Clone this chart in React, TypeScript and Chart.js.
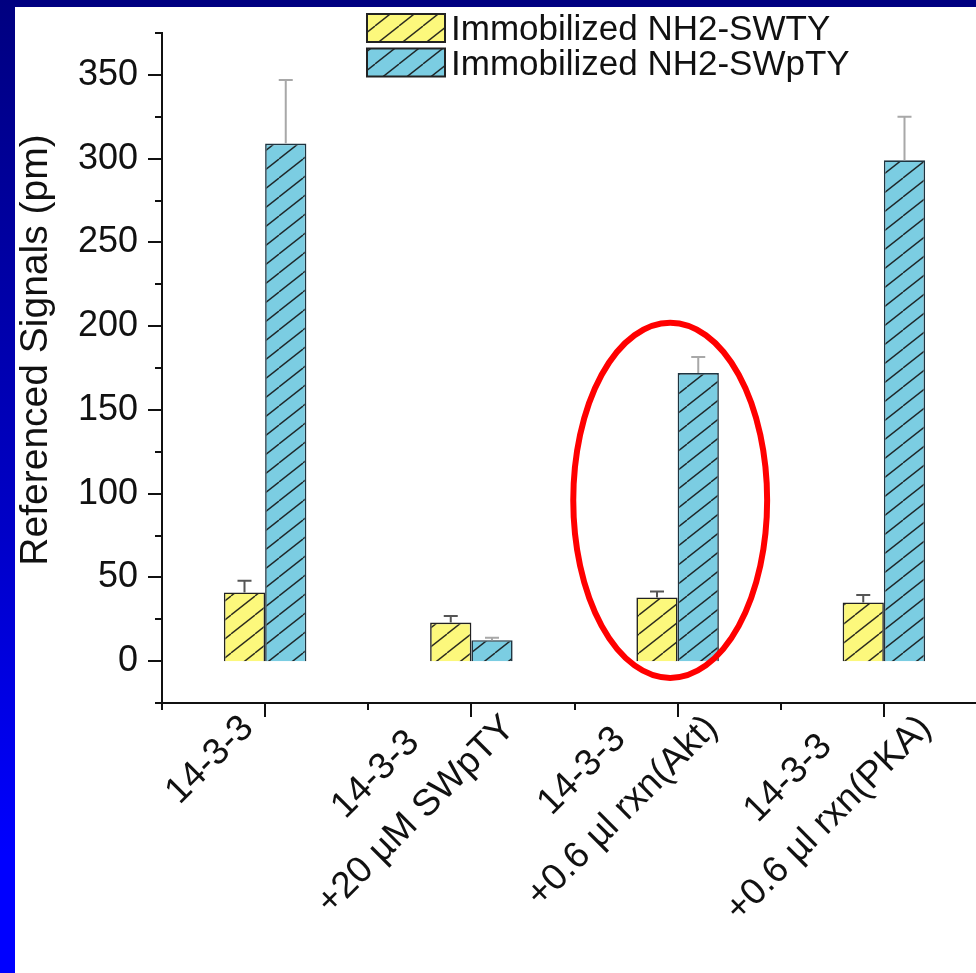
import React, { useEffect, useRef } from 'react';
import { Chart, registerables } from 'chart.js';

Chart.register(...registerables);

// ---------- data ----------
const categories: string[][] = [
  ['14-3-3'],
  ['14-3-3', '+20 µM SWpTY'],
  ['14-3-3', '+0.6 µl rxn(Akt)'],
  ['14-3-3', '+0.6 µl rxn(PKA)'],
];
const seriesNames = ['Immobilized NH2-SWTY', 'Immobilized NH2-SWpTY'];
const swtyValues = [41, 23, 38, 35];
const swtyErrors = [7, 4, 3.5, 4.5];
const swptyValues = [309, 12.5, 172, 299];
const swptyErrors = [38, 1.5, 9.5, 26];
const yTickLabels = [0, 50, 100, 150, 200, 250, 300, 350];
const yMin = -25;
const yMax = 375;
const yMinorStep = 25;
const yAxisTitle = 'Referenced Signals (pm)';

// highlight annotation (in data units)
const highlightCategory = 1.964;
const highlightCenterValue = 96;
const highlightHalfValue = 106;
const highlightHalfCategories = 0.47;

// ---------- styles ----------
const FONT = '"Liberation Sans", Arial, Helvetica, sans-serif';
const fills = ['#fcf87c', '#7bcde2'];
const borders = ['#222222', '#1e3440'];
const errColors = ['#555555', '#a8a8a8'];
const errorArrays = [swtyErrors, swptyErrors];

function hatch(bg: string): CanvasPattern | string {
  const w = 24;
  const h = 19;
  const c = document.createElement('canvas');
  c.width = w;
  c.height = h;
  const g = c.getContext('2d');
  if (!g) return bg;
  g.fillStyle = bg;
  g.fillRect(0, 0, w, h);
  g.strokeStyle = 'rgba(20,20,20,0.9)';
  g.lineWidth = 1.4;
  for (const dx of [-w, 0, w]) {
    g.beginPath();
    g.moveTo(dx, h);
    g.lineTo(dx + w, 0);
    g.stroke();
  }
  return g.createPattern(c, 'repeat') || bg;
}

export default function App() {
  const ref = useRef<HTMLCanvasElement | null>(null);

  useEffect(() => {
    const canvas = ref.current;
    if (!canvas) return;
    const patterns = fills.map((f) => hatch(f));

    const axesPlugin = {
      id: 'customAxes',
      afterDraw(chart: any) {
        const ctx = chart.ctx as CanvasRenderingContext2D;
        const xs = chart.scales.x;
        const ys = chart.scales.y;
        const area = chart.chartArea;
        ctx.save();
        ctx.strokeStyle = '#111';
        ctx.lineWidth = 2;
        // y ticks
        for (let v = yMin; v <= yMax + 0.001; v += yMinorStep) {
          const py = Math.round(ys.getPixelForValue(v));
          const major = yTickLabels.includes(v);
          const len = major ? 14 : 7;
          ctx.beginPath();
          ctx.moveTo(area.left - len, py);
          ctx.lineTo(area.left, py);
          ctx.stroke();
        }
        // x axis stub left of the y axis
        ctx.beginPath();
        ctx.moveTo(area.left - 7, area.bottom);
        ctx.lineTo(area.left, area.bottom);
        ctx.stroke();
        // x ticks
        for (let i = 0; i < categories.length; i++) {
          const px = Math.round(xs.getPixelForValue(i));
          ctx.beginPath();
          ctx.moveTo(px, area.bottom);
          ctx.lineTo(px, area.bottom + 14);
          ctx.stroke();
        }
        for (let i = 0; i <= categories.length; i++) {
          const px = Math.round(xs.getPixelForValue(i - 0.5));
          ctx.beginPath();
          ctx.moveTo(px, area.bottom);
          ctx.lineTo(px, area.bottom + 7);
          ctx.stroke();
        }
        // y title
        ctx.fillStyle = '#111';
        ctx.font = `39px ${FONT}`;
        ctx.textAlign = 'center';
        ctx.textBaseline = 'middle';
        ctx.save();
        ctx.translate(21, (area.top + area.bottom) / 2 - 18);
        ctx.rotate(-Math.PI / 2);
        ctx.fillText(yAxisTitle, 0, 0);
        ctx.restore();
        // x labels (rotated 45°, lines centred)
        const fs = 37;
        const lh = fs * 1.55;
        const half = fs * 0.36;
        ctx.font = `${fs}px ${FONT}`;
        const r = Math.SQRT1_2;
        categories.forEach((lines, i) => {
          const px = xs.getPixelForValue(i);
          let minX = Infinity, maxX = -Infinity, minY = Infinity;
          const offs = lines.map((_, k) => (k - (lines.length - 1) / 2) * lh);
          lines.forEach((l, k) => {
            const w = ctx.measureText(l).width;
            for (const sx of [-w / 2, w / 2]) {
              for (const sy of [offs[k] - half, offs[k] + half]) {
                const X = (sx + sy) * r;
                const Y = (-sx + sy) * r;
                minX = Math.min(minX, X);
                maxX = Math.max(maxX, X);
                minY = Math.min(minY, Y);
              }
            }
          });
          const cx = px - 55 - (minX + maxX) / 2;
          const cy = area.bottom + 10 - minY;
          ctx.save();
          ctx.translate(cx, cy);
          ctx.rotate(-Math.PI / 4);
          lines.forEach((l, k) => ctx.fillText(l, 0, offs[k]));
          ctx.restore();
        });
        ctx.restore();
      },
    };

    const errorPlugin = {
      id: 'errorBars',
      afterDatasetsDraw(chart: any) {
        const ctx = chart.ctx as CanvasRenderingContext2D;
        const ys = chart.scales.y;
        ctx.save();
        chart.data.datasets.forEach((ds: any, di: number) => {
          const meta = chart.getDatasetMeta(di);
          meta.data.forEach((bar: any, i: number) => {
            const { x, y } = bar.getProps(['x', 'y'], true);
            const yt = ys.getPixelForValue(ds.data[i] + errorArrays[di][i]);
            ctx.strokeStyle = errColors[di];
            ctx.lineWidth = 2;
            ctx.beginPath();
            ctx.moveTo(x, y);
            ctx.lineTo(x, yt);
            ctx.moveTo(x - 7, yt);
            ctx.lineTo(x + 7, yt);
            ctx.stroke();
          });
        });
        ctx.restore();
      },
    };

    const highlightPlugin = {
      id: 'highlight',
      afterDraw(chart: any) {
        const ctx = chart.ctx as CanvasRenderingContext2D;
        const xs = chart.scales.x;
        const ys = chart.scales.y;
        const cx = xs.getPixelForValue(highlightCategory);
        const cy = ys.getPixelForValue(highlightCenterValue);
        const rx = (xs.getPixelForValue(1) - xs.getPixelForValue(0)) * highlightHalfCategories;
        const ry = ys.getPixelForValue(0) - ys.getPixelForValue(highlightHalfValue);
        ctx.save();
        ctx.strokeStyle = '#ff0000';
        ctx.lineWidth = 6;
        ctx.beginPath();
        ctx.ellipse(cx, cy, rx, ry, 0, 0, Math.PI * 2);
        ctx.stroke();
        ctx.restore();
      },
    };

    const legendPlugin = {
      id: 'customLegend',
      afterDraw(chart: any) {
        const ctx = chart.ctx as CanvasRenderingContext2D;
        const area = chart.chartArea;
        const left = area.left + 205;
        const top = area.top - 19;
        ctx.save();
        seriesNames.forEach((name, i) => {
          const by = top + i * 34.5;
          ctx.fillStyle = patterns[i] as any;
          ctx.fillRect(left, by, 78, 28);
          ctx.strokeStyle = '#222';
          ctx.lineWidth = 2;
          ctx.strokeRect(left, by, 78, 28);
          ctx.fillStyle = '#111';
          ctx.font = `35px ${FONT}`;
          ctx.textAlign = 'left';
          ctx.textBaseline = 'alphabetic';
          ctx.fillText(name, left + 84, by + 26);
        });
        ctx.restore();
      },
    };

    const chart = new Chart(canvas, {
      type: 'bar',
      data: {
        labels: categories.map((c) => c.join(' ')),
        datasets: [
          {
            label: seriesNames[0],
            data: swtyValues,
            backgroundColor: patterns[0] as any,
            borderColor: borders[0],
            borderWidth: 1.6,
            categoryPercentage: 0.4,
            barPercentage: 1,
          },
          {
            label: seriesNames[1],
            data: swptyValues,
            backgroundColor: patterns[1] as any,
            borderColor: borders[1],
            borderWidth: 1.6,
            categoryPercentage: 0.4,
            barPercentage: 1,
          },
        ],
      },
      options: {
        responsive: false,
        animation: false,
        devicePixelRatio: 1,
        layout: { padding: { top: 26, right: 28, left: 0, bottom: 0 } },
        plugins: {
          legend: { display: false },
          title: { display: false },
          tooltip: { enabled: false },
        },
        scales: {
          x: {
            type: 'category',
            offset: true,
            grid: { display: false, drawTicks: false },
            border: { display: true, color: '#111', width: 2 },
            ticks: { display: false },
            afterFit: (s: any) => {
              s.height = 270;
              s.paddingLeft = 0;
              s.paddingRight = 0;
            },
          },
          y: {
            type: 'linear',
            min: yMin,
            max: yMax,
            grid: { display: false, drawTicks: false },
            border: { display: true, color: '#111', width: 2 },
            ticks: {
              stepSize: yMinorStep,
              autoSkip: false,
              padding: 24,
              color: '#111',
              font: { family: FONT, size: 36 },
              callback: (v: any) => (yTickLabels.includes(Number(v)) ? String(v) : ''),
            },
            afterFit: (s: any) => {
              s.width = 147;
              s.paddingTop = 0;
              s.paddingBottom = 0;
            },
          },
        },
      },
      plugins: [errorPlugin, axesPlugin, highlightPlugin, legendPlugin],
    });

    return () => chart.destroy();
  }, []);

  return (
    <div
      style={{
        position: 'fixed',
        left: 0,
        top: 0,
        width: 976,
        height: 973,
        overflow: 'hidden',
        background: 'linear-gradient(to bottom, #000080 0%, #0000c8 55%, #0000ff 88%, #0000ff 100%)',
      }}
    >
      <div
        style={{
          position: 'absolute',
          left: 15,
          top: 7,
          width: 1000,
          height: 966,
          background: '#ffffff',
        }}
      >
        <canvas ref={ref} width={1000} height={966} style={{ display: 'block' }} />
      </div>
    </div>
  );
}
